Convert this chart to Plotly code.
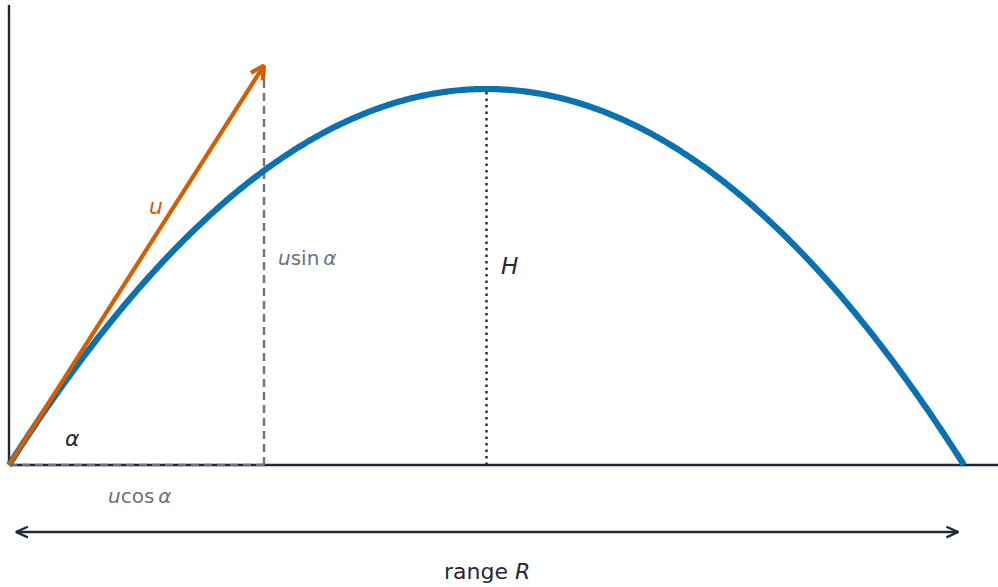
import numpy as np
import plotly.graph_objects as go

# Projectile geometry (plot units)
R = 10.0            # horizontal range
H = 4.0             # maximum height
U_TIP = (2.67, 4.25)  # tip of the launch velocity vector u
RANGE_Y = -0.713    # height of the "range R" double arrow
RANGE_X = (0.073, 9.94)

# Label positions
LABELS = {
    "u": (1.54, 2.745),
    "usin": (2.80, 2.20),
    "H": (5.246, 2.122),
    "alpha": (0.66, 0.28),
    "ucos": (1.369, -0.33),
    "range": (5.0, -1.138),
}

W, HT = 998, 587
SX, SY = 95.5, 94.0      # pixels per unit on x and y
X0 = -9 / SX
Y0 = -(HT - 465) / SY

BLUE = "#0a72b0"
ORANGE = "#d55e00"
DARK = "#1f2937"
GREY = "#6b7280"
FONT = "DejaVu Sans"

xs = np.linspace(0, R, 400)
ys = 4 * H * xs * (R - xs) / R**2


def chevron(tip, direction, length=14, spread=np.radians(26)):
    """Open arrowhead at `tip`, pointing along `direction` (given in data units)."""
    dx, dy = direction[0] * SX, direction[1] * SY
    ang = np.arctan2(dy, dx)
    pts = []
    for s in (spread, -spread):
        a = ang + np.pi + s
        pts.append((tip[0] + length * np.cos(a) / SX, tip[1] + length * np.sin(a) / SY))
    return [pts[0][0], tip[0], pts[1][0]], [pts[0][1], tip[1], pts[1][1]]


def line(x, y, color, width, dash="solid"):
    fig.add_trace(go.Scatter(x=x, y=y, mode="lines",
                             line=dict(color=color, width=width, dash=dash, simplify=False),
                             hoverinfo="skip"))


fig = go.Figure()

# axes
line([0, 0], [0, (465 - 5) / SY], DARK, 2.4)
line([0, X0 + W / SX], [0, 0], DARK, 2.4)

# u cos(alpha) component along the ground
line([0, U_TIP[0]], [0, 0], GREY, 2.4, "8px,5px")
# u sin(alpha) component
line([U_TIP[0], U_TIP[0]], [0, U_TIP[1]], GREY, 2.4, "8px,5px")
# maximum height H
line([R / 2, R / 2], [0, H], DARK, 2.4, "2.5px,4px")

# trajectory
line(xs, ys, BLUE, 6.2)

# launch velocity u
line([0, U_TIP[0]], [0, U_TIP[1]], ORANGE, 4.2)
cx, cy = chevron(U_TIP, U_TIP, length=15, spread=np.radians(28))
line(cx, cy, ORANGE, 4.2)

# range double arrow
line(list(RANGE_X), [RANGE_Y, RANGE_Y], DARK, 2.4)
for tip, d in (((RANGE_X[1], RANGE_Y), (1, 0)), ((RANGE_X[0], RANGE_Y), (-1, 0))):
    cx, cy = chevron(tip, d, length=13, spread=np.radians(24))
    line(cx, cy, DARK, 2.4)


def label(key, text, color, size, xanchor="center"):
    x, y = LABELS[key]
    fig.add_annotation(x=x, y=y, text=text, showarrow=False, xanchor=xanchor,
                       yanchor="middle", font=dict(family=FONT, size=size, color=color))


label("u", "<i>u</i>", ORANGE, 22)
label("usin", "<i>u</i>sin\u2009<i>α</i>", GREY, 20, xanchor="left")
label("H", "<i>H</i>", DARK, 23)
label("alpha", "<i>α</i>", DARK, 22)
label("ucos", "<i>u</i>cos\u2009<i>α</i>", GREY, 20)
label("range", "range <i>R</i>", DARK, 22)

fig.update_layout(
    width=W, height=HT,
    margin=dict(l=0, r=0, t=0, b=0),
    paper_bgcolor="white", plot_bgcolor="white",
    showlegend=False,
    xaxis=dict(range=[X0, X0 + W / SX], visible=False, fixedrange=True),
    yaxis=dict(range=[Y0, Y0 + HT / SY], visible=False, fixedrange=True),
)

fig.write_html("out.html", config={"displayModeBar": False})
